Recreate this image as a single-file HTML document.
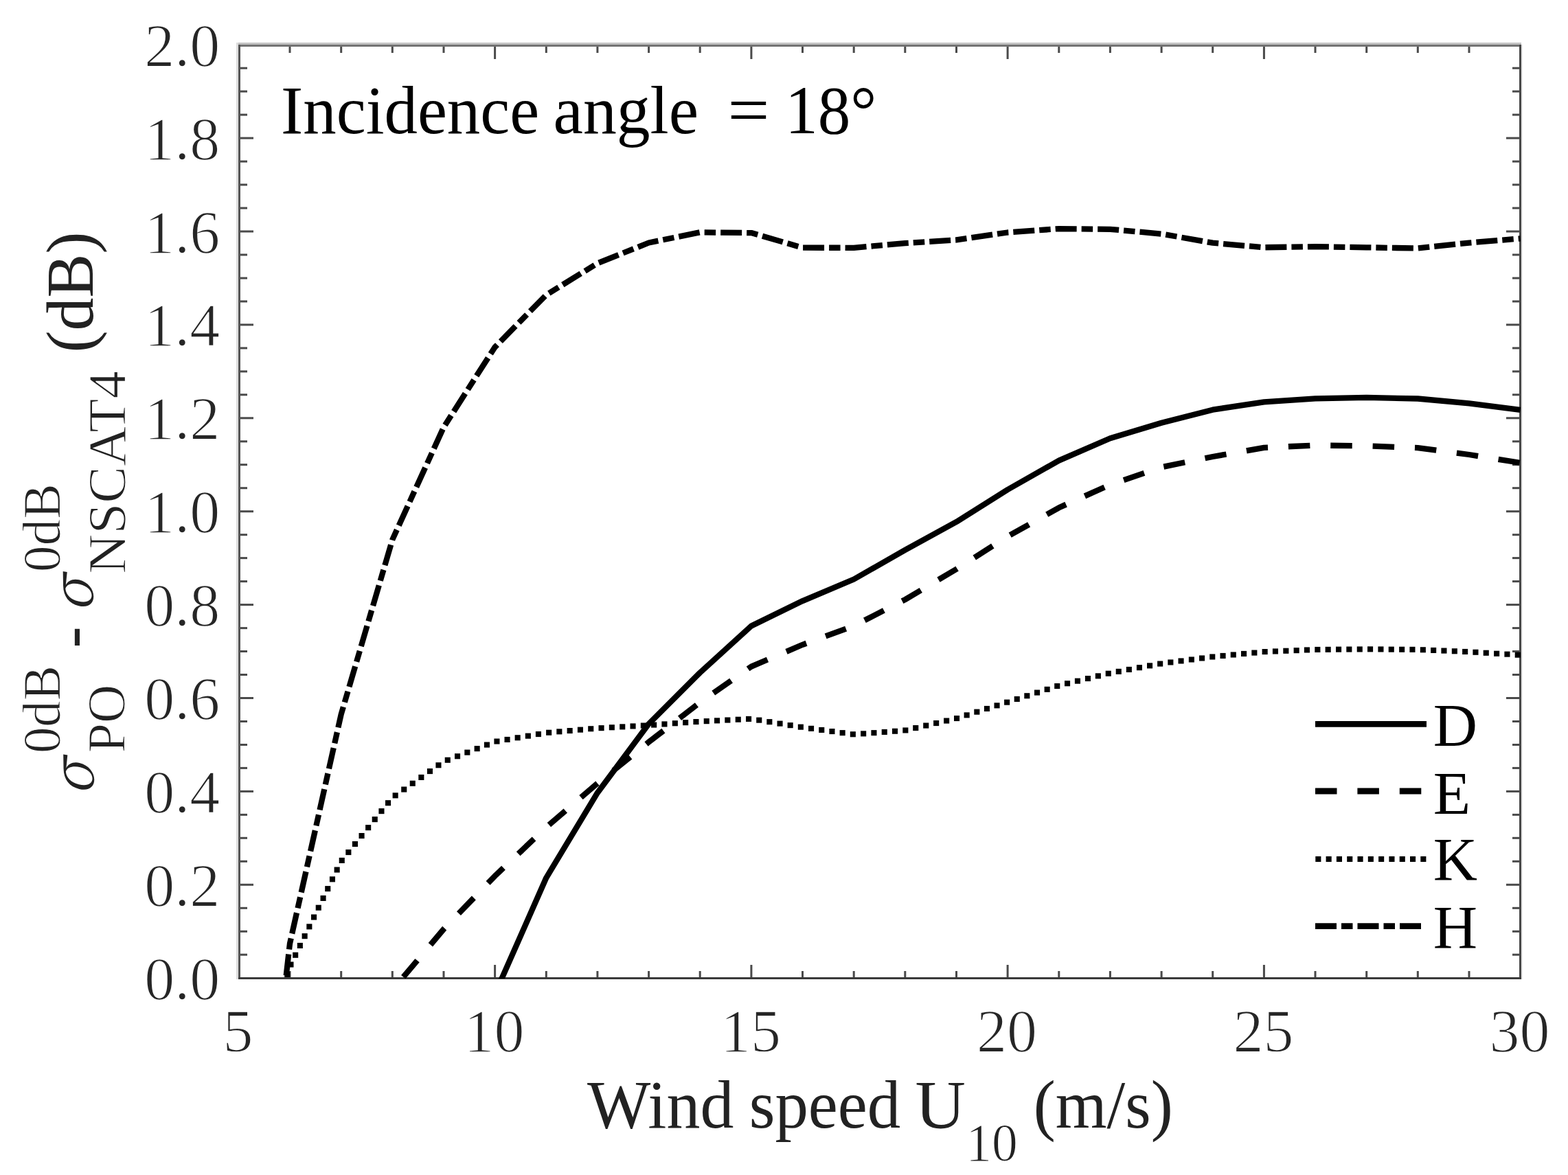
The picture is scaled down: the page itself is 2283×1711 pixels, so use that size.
<!DOCTYPE html><html><head><meta charset="utf-8"><style>html,body{margin:0;padding:0;background:#fff;overflow:hidden;}svg{display:block;}text{font-family:"Liberation Serif","Times New Roman",serif;}</style></head><body>
<svg width="2283" height="1711" viewBox="0 0 2283 1711" xmlns="http://www.w3.org/2000/svg">
<rect width="2283" height="1711" fill="#fff"/>
<defs><clipPath id="pc"><rect x="348" y="60" width="1866" height="1365"/></clipPath></defs>
<rect x="344" y="62" width="3" height="1364" fill="#ddd"/>
<rect x="347" y="62" width="1868" height="3" fill="#c2c2c2"/>
<rect x="347" y="65" width="1868" height="3" fill="#727272"/>
<rect x="347" y="65" width="3" height="1361" fill="#555"/>
<rect x="2212" y="65" width="3" height="1361" fill="#484848"/>
<rect x="2215" y="65" width="2" height="1361" fill="#e8e8e8"/>
<rect x="347" y="1423" width="1868" height="3" fill="#3a3a3a"/>
<g fill="#4a4a4a"><rect x="350" y="1388.7" width="10" height="3"/><rect x="2202" y="1388.7" width="10" height="3"/><rect x="350" y="1354.8" width="10" height="3"/><rect x="2202" y="1354.8" width="10" height="3"/><rect x="350" y="1320.8" width="10" height="3"/><rect x="2202" y="1320.8" width="10" height="3"/><rect x="350" y="1286.8" width="19" height="3"/><rect x="2193" y="1286.8" width="19" height="3"/><rect x="350" y="1252.8" width="10" height="3"/><rect x="2202" y="1252.8" width="10" height="3"/><rect x="350" y="1218.8" width="10" height="3"/><rect x="2202" y="1218.8" width="10" height="3"/><rect x="350" y="1184.9" width="10" height="3"/><rect x="2202" y="1184.9" width="10" height="3"/><rect x="350" y="1150.9" width="19" height="3"/><rect x="2193" y="1150.9" width="19" height="3"/><rect x="350" y="1116.9" width="10" height="3"/><rect x="2202" y="1116.9" width="10" height="3"/><rect x="350" y="1083.0" width="10" height="3"/><rect x="2202" y="1083.0" width="10" height="3"/><rect x="350" y="1049.0" width="10" height="3"/><rect x="2202" y="1049.0" width="10" height="3"/><rect x="350" y="1015.0" width="19" height="3"/><rect x="2193" y="1015.0" width="19" height="3"/><rect x="350" y="981.0" width="10" height="3"/><rect x="2202" y="981.0" width="10" height="3"/><rect x="350" y="947.0" width="10" height="3"/><rect x="2202" y="947.0" width="10" height="3"/><rect x="350" y="913.1" width="10" height="3"/><rect x="2202" y="913.1" width="10" height="3"/><rect x="350" y="879.1" width="19" height="3"/><rect x="2193" y="879.1" width="19" height="3"/><rect x="350" y="845.1" width="10" height="3"/><rect x="2202" y="845.1" width="10" height="3"/><rect x="350" y="811.1" width="10" height="3"/><rect x="2202" y="811.1" width="10" height="3"/><rect x="350" y="777.2" width="10" height="3"/><rect x="2202" y="777.2" width="10" height="3"/><rect x="350" y="743.2" width="19" height="3"/><rect x="2193" y="743.2" width="19" height="3"/><rect x="350" y="709.2" width="10" height="3"/><rect x="2202" y="709.2" width="10" height="3"/><rect x="350" y="675.2" width="10" height="3"/><rect x="2202" y="675.2" width="10" height="3"/><rect x="350" y="641.3" width="10" height="3"/><rect x="2202" y="641.3" width="10" height="3"/><rect x="350" y="607.3" width="19" height="3"/><rect x="2193" y="607.3" width="19" height="3"/><rect x="350" y="573.3" width="10" height="3"/><rect x="2202" y="573.3" width="10" height="3"/><rect x="350" y="539.4" width="10" height="3"/><rect x="2202" y="539.4" width="10" height="3"/><rect x="350" y="505.4" width="10" height="3"/><rect x="2202" y="505.4" width="10" height="3"/><rect x="350" y="471.4" width="19" height="3"/><rect x="2193" y="471.4" width="19" height="3"/><rect x="350" y="437.4" width="10" height="3"/><rect x="2202" y="437.4" width="10" height="3"/><rect x="350" y="403.5" width="10" height="3"/><rect x="2202" y="403.5" width="10" height="3"/><rect x="350" y="369.5" width="10" height="3"/><rect x="2202" y="369.5" width="10" height="3"/><rect x="350" y="335.5" width="19" height="3"/><rect x="2193" y="335.5" width="19" height="3"/><rect x="350" y="301.5" width="10" height="3"/><rect x="2202" y="301.5" width="10" height="3"/><rect x="350" y="267.5" width="10" height="3"/><rect x="2202" y="267.5" width="10" height="3"/><rect x="350" y="233.6" width="10" height="3"/><rect x="2202" y="233.6" width="10" height="3"/><rect x="350" y="199.6" width="19" height="3"/><rect x="2193" y="199.6" width="19" height="3"/><rect x="350" y="165.6" width="10" height="3"/><rect x="2202" y="165.6" width="10" height="3"/><rect x="350" y="131.6" width="10" height="3"/><rect x="2202" y="131.6" width="10" height="3"/><rect x="350" y="97.7" width="10" height="3"/><rect x="2202" y="97.7" width="10" height="3"/><rect x="420.5" y="1414" width="3" height="9"/><rect x="420.5" y="68" width="3" height="9"/><rect x="495.2" y="1414" width="3" height="9"/><rect x="495.2" y="68" width="3" height="9"/><rect x="569.8" y="1414" width="3" height="9"/><rect x="569.8" y="68" width="3" height="9"/><rect x="644.5" y="1414" width="3" height="9"/><rect x="644.5" y="68" width="3" height="9"/><rect x="719.1" y="1405" width="3" height="18"/><rect x="719.1" y="68" width="3" height="18"/><rect x="793.8" y="1414" width="3" height="9"/><rect x="793.8" y="68" width="3" height="9"/><rect x="868.4" y="1414" width="3" height="9"/><rect x="868.4" y="68" width="3" height="9"/><rect x="943.1" y="1414" width="3" height="9"/><rect x="943.1" y="68" width="3" height="9"/><rect x="1017.7" y="1414" width="3" height="9"/><rect x="1017.7" y="68" width="3" height="9"/><rect x="1092.4" y="1405" width="3" height="18"/><rect x="1092.4" y="68" width="3" height="18"/><rect x="1167.0" y="1414" width="3" height="9"/><rect x="1167.0" y="68" width="3" height="9"/><rect x="1241.7" y="1414" width="3" height="9"/><rect x="1241.7" y="68" width="3" height="9"/><rect x="1316.3" y="1414" width="3" height="9"/><rect x="1316.3" y="68" width="3" height="9"/><rect x="1391.0" y="1414" width="3" height="9"/><rect x="1391.0" y="68" width="3" height="9"/><rect x="1465.6" y="1405" width="3" height="18"/><rect x="1465.6" y="68" width="3" height="18"/><rect x="1540.3" y="1414" width="3" height="9"/><rect x="1540.3" y="68" width="3" height="9"/><rect x="1614.9" y="1414" width="3" height="9"/><rect x="1614.9" y="68" width="3" height="9"/><rect x="1689.6" y="1414" width="3" height="9"/><rect x="1689.6" y="68" width="3" height="9"/><rect x="1764.2" y="1414" width="3" height="9"/><rect x="1764.2" y="68" width="3" height="9"/><rect x="1838.9" y="1405" width="3" height="18"/><rect x="1838.9" y="68" width="3" height="18"/><rect x="1913.5" y="1414" width="3" height="9"/><rect x="1913.5" y="68" width="3" height="9"/><rect x="1988.2" y="1414" width="3" height="9"/><rect x="1988.2" y="68" width="3" height="9"/><rect x="2062.8" y="1414" width="3" height="9"/><rect x="2062.8" y="68" width="3" height="9"/><rect x="2137.5" y="1414" width="3" height="9"/><rect x="2137.5" y="68" width="3" height="9"/></g>
<g clip-path="url(#pc)" fill="none" stroke="#000" stroke-width="8.3" stroke-linejoin="round">
<path d="M720.6 1447.5 L795.3 1278.3 L869.9 1154.4 L944.6 1054.1 L1019.2 979.5 L1093.9 911.5 L1168.5 875.1 L1243.2 843.5 L1317.8 800.9 L1392.5 759.9 L1467.1 713.0 L1541.8 670.6 L1616.4 638.2 L1691.1 615.8 L1765.7 596.7 L1840.4 585.3 L1915.0 580.4 L1989.7 578.9 L2064.3 580.5 L2139.0 587.4 L2213.6 597.0"/>
<path d="M571.3 1441.5 L646.0 1353.0 L720.6 1275.6 L795.3 1204.7 L869.9 1140.7 L944.6 1080.6 L1019.2 1022.8 L1093.9 970.6 L1168.5 938.8 L1243.2 911.3 L1317.8 873.1 L1392.5 828.7 L1467.1 781.2 L1541.8 739.3 L1616.4 705.8 L1691.1 680.3 L1765.7 665.0 L1840.4 651.8 L1915.0 648.5 L1989.7 649.4 L2064.3 652.1 L2139.0 662.0 L2213.6 673.9" stroke-dasharray="31.5 29.9" stroke-dashoffset="36.7"/>
</g><g clip-path="url(#pc)" fill="#000"><rect x="414.2" y="1414.9" width="8.1" height="8.1"/><rect x="419.4" y="1400.5" width="8.1" height="8.1"/><rect x="426.1" y="1386.7" width="8.1" height="8.1"/><rect x="432.8" y="1372.9" width="8.1" height="8.1"/><rect x="439.6" y="1359.1" width="8.1" height="8.1"/><rect x="446.3" y="1345.3" width="8.1" height="8.1"/><rect x="453.0" y="1331.5" width="8.1" height="8.1"/><rect x="459.7" y="1317.7" width="8.1" height="8.1"/><rect x="466.5" y="1303.9" width="8.1" height="8.1"/><rect x="473.2" y="1290.1" width="8.1" height="8.1"/><rect x="479.9" y="1276.3" width="8.1" height="8.1"/><rect x="486.6" y="1262.5" width="8.1" height="8.1"/><rect x="493.7" y="1248.9" width="8.1" height="8.1"/><rect x="503.3" y="1237.0" width="8.1" height="8.1"/><rect x="512.9" y="1225.0" width="8.1" height="8.1"/><rect x="522.5" y="1213.0" width="8.1" height="8.1"/><rect x="532.1" y="1201.1" width="8.1" height="8.1"/><rect x="541.7" y="1189.1" width="8.1" height="8.1"/><rect x="551.4" y="1177.1" width="8.1" height="8.1"/><rect x="561.0" y="1165.2" width="8.1" height="8.1"/><rect x="571.6" y="1154.3" width="8.1" height="8.1"/><rect x="584.2" y="1145.5" width="8.1" height="8.1"/><rect x="596.7" y="1136.7" width="8.1" height="8.1"/><rect x="609.3" y="1127.9" width="8.1" height="8.1"/><rect x="621.9" y="1119.0" width="8.1" height="8.1"/><rect x="634.4" y="1110.2" width="8.1" height="8.1"/><rect x="647.7" y="1102.7" width="8.1" height="8.1"/><rect x="662.0" y="1097.2" width="8.1" height="8.1"/><rect x="676.3" y="1091.6" width="8.1" height="8.1"/><rect x="690.6" y="1086.1" width="8.1" height="8.1"/><rect x="704.9" y="1080.5" width="8.1" height="8.1"/><rect x="719.4" y="1075.5" width="8.1" height="8.1"/><rect x="734.5" y="1072.9" width="8.1" height="8.1"/><rect x="749.6" y="1070.2" width="8.1" height="8.1"/><rect x="764.8" y="1067.6" width="8.1" height="8.1"/><rect x="779.9" y="1065.0" width="8.1" height="8.1"/><rect x="795.1" y="1062.7" width="8.1" height="8.1"/><rect x="810.3" y="1061.3" width="8.1" height="8.1"/><rect x="825.6" y="1060.0" width="8.1" height="8.1"/><rect x="840.9" y="1058.6" width="8.1" height="8.1"/><rect x="856.2" y="1057.2" width="8.1" height="8.1"/><rect x="871.5" y="1056.1" width="8.1" height="8.1"/><rect x="886.8" y="1055.2" width="8.1" height="8.1"/><rect x="902.2" y="1054.3" width="8.1" height="8.1"/><rect x="917.5" y="1053.4" width="8.1" height="8.1"/><rect x="932.8" y="1052.5" width="8.1" height="8.1"/><rect x="948.1" y="1051.5" width="8.1" height="8.1"/><rect x="963.4" y="1050.4" width="8.1" height="8.1"/><rect x="978.8" y="1049.2" width="8.1" height="8.1"/><rect x="994.1" y="1048.1" width="8.1" height="8.1"/><rect x="1009.4" y="1047.0" width="8.1" height="8.1"/><rect x="1024.7" y="1046.1" width="8.1" height="8.1"/><rect x="1040.0" y="1045.3" width="8.1" height="8.1"/><rect x="1055.3" y="1044.5" width="8.1" height="8.1"/><rect x="1070.7" y="1043.7" width="8.1" height="8.1"/><rect x="1086.0" y="1042.9" width="8.1" height="8.1"/><rect x="1101.2" y="1044.6" width="8.1" height="8.1"/><rect x="1116.3" y="1047.1" width="8.1" height="8.1"/><rect x="1131.5" y="1049.6" width="8.1" height="8.1"/><rect x="1146.6" y="1052.1" width="8.1" height="8.1"/><rect x="1161.8" y="1054.6" width="8.1" height="8.1"/><rect x="1177.0" y="1056.8" width="8.1" height="8.1"/><rect x="1192.2" y="1058.9" width="8.1" height="8.1"/><rect x="1207.4" y="1061.0" width="8.1" height="8.1"/><rect x="1222.6" y="1063.1" width="8.1" height="8.1"/><rect x="1237.8" y="1065.2" width="8.1" height="8.1"/><rect x="1253.1" y="1064.3" width="8.1" height="8.1"/><rect x="1268.4" y="1063.1" width="8.1" height="8.1"/><rect x="1283.7" y="1061.9" width="8.1" height="8.1"/><rect x="1299.0" y="1060.7" width="8.1" height="8.1"/><rect x="1314.3" y="1059.4" width="8.1" height="8.1"/><rect x="1329.2" y="1056.0" width="8.1" height="8.1"/><rect x="1344.2" y="1052.5" width="8.1" height="8.1"/><rect x="1359.1" y="1049.0" width="8.1" height="8.1"/><rect x="1374.1" y="1045.5" width="8.1" height="8.1"/><rect x="1389.0" y="1042.0" width="8.1" height="8.1"/><rect x="1403.6" y="1037.3" width="8.1" height="8.1"/><rect x="1418.3" y="1032.6" width="8.1" height="8.1"/><rect x="1432.9" y="1027.9" width="8.1" height="8.1"/><rect x="1447.5" y="1023.3" width="8.1" height="8.1"/><rect x="1462.1" y="1018.6" width="8.1" height="8.1"/><rect x="1476.7" y="1013.9" width="8.1" height="8.1"/><rect x="1491.3" y="1009.2" width="8.1" height="8.1"/><rect x="1506.0" y="1004.5" width="8.1" height="8.1"/><rect x="1520.6" y="999.8" width="8.1" height="8.1"/><rect x="1535.2" y="995.0" width="8.1" height="8.1"/><rect x="1550.0" y="991.2" width="8.1" height="8.1"/><rect x="1564.9" y="987.6" width="8.1" height="8.1"/><rect x="1579.9" y="984.0" width="8.1" height="8.1"/><rect x="1594.8" y="980.3" width="8.1" height="8.1"/><rect x="1609.7" y="976.7" width="8.1" height="8.1"/><rect x="1624.7" y="973.8" width="8.1" height="8.1"/><rect x="1639.8" y="970.9" width="8.1" height="8.1"/><rect x="1654.9" y="968.1" width="8.1" height="8.1"/><rect x="1670.0" y="965.3" width="8.1" height="8.1"/><rect x="1685.1" y="962.5" width="8.1" height="8.1"/><rect x="1700.3" y="960.4" width="8.1" height="8.1"/><rect x="1715.5" y="958.4" width="8.1" height="8.1"/><rect x="1730.8" y="956.4" width="8.1" height="8.1"/><rect x="1746.0" y="954.4" width="8.1" height="8.1"/><rect x="1761.2" y="952.4" width="8.1" height="8.1"/><rect x="1776.5" y="950.9" width="8.1" height="8.1"/><rect x="1791.7" y="949.4" width="8.1" height="8.1"/><rect x="1807.0" y="947.9" width="8.1" height="8.1"/><rect x="1822.3" y="946.5" width="8.1" height="8.1"/><rect x="1837.6" y="945.0" width="8.1" height="8.1"/><rect x="1852.9" y="944.4" width="8.1" height="8.1"/><rect x="1868.3" y="943.7" width="8.1" height="8.1"/><rect x="1883.6" y="943.1" width="8.1" height="8.1"/><rect x="1898.9" y="942.4" width="8.1" height="8.1"/><rect x="1914.3" y="941.9" width="8.1" height="8.1"/><rect x="1929.6" y="941.8" width="8.1" height="8.1"/><rect x="1945.0" y="941.6" width="8.1" height="8.1"/><rect x="1960.3" y="941.5" width="8.1" height="8.1"/><rect x="1975.7" y="941.4" width="8.1" height="8.1"/><rect x="1991.0" y="941.3" width="8.1" height="8.1"/><rect x="2006.4" y="941.4" width="8.1" height="8.1"/><rect x="2021.7" y="941.6" width="8.1" height="8.1"/><rect x="2037.1" y="941.7" width="8.1" height="8.1"/><rect x="2052.4" y="941.8" width="8.1" height="8.1"/><rect x="2067.8" y="942.2" width="8.1" height="8.1"/><rect x="2083.1" y="942.9" width="8.1" height="8.1"/><rect x="2098.4" y="943.5" width="8.1" height="8.1"/><rect x="2113.8" y="944.2" width="8.1" height="8.1"/><rect x="2129.1" y="944.9" width="8.1" height="8.1"/><rect x="2144.4" y="945.7" width="8.1" height="8.1"/><rect x="2159.7" y="946.7" width="8.1" height="8.1"/><rect x="2175.1" y="947.7" width="8.1" height="8.1"/><rect x="2190.4" y="948.6" width="8.1" height="8.1"/><rect x="2205.7" y="949.6" width="8.1" height="8.1"/></g><g clip-path="url(#pc)" fill="none" stroke="#000" stroke-width="8.3" stroke-linejoin="round">
<path d="M411.2 1464.0 L416.3 1424.0 L422.0 1374.0 L496.7 1040.1 L571.3 785.9 L646.0 622.1 L720.6 505.5 L795.3 429.4 L869.9 383.4 L944.6 353.5 L1019.2 338.3 L1093.9 339.1 L1168.5 360.7 L1243.2 360.8 L1317.8 354.1 L1392.5 349.4 L1467.1 338.5 L1541.8 333.1 L1616.4 333.8 L1691.1 340.6 L1765.7 353.7 L1840.4 360.3 L1915.0 359.1 L1989.7 360.3 L2064.3 361.5 L2139.0 353.6 L2213.6 347.3" stroke-dasharray="31 7 16.5 7" stroke-dashoffset="17.5"/>
</g>
<g font-size="88" fill="#262626" stroke="#fff" stroke-width="1.5"><text x="320.3" y="1454.7" text-anchor="end">0.0</text><text x="320.3" y="1318.8" text-anchor="end">0.2</text><text x="320.3" y="1182.9" text-anchor="end">0.4</text><text x="320.3" y="1047.0" text-anchor="end">0.6</text><text x="320.3" y="911.1" text-anchor="end">0.8</text><text x="320.3" y="775.2" text-anchor="end">1.0</text><text x="320.3" y="639.3" text-anchor="end">1.2</text><text x="320.3" y="503.4" text-anchor="end">1.4</text><text x="320.3" y="367.5" text-anchor="end">1.6</text><text x="320.3" y="231.6" text-anchor="end">1.8</text><text x="320.3" y="95.7" text-anchor="end">2.0</text><text x="346.4" y="1531.0" text-anchor="middle">5</text><text x="719.6" y="1531.0" text-anchor="middle">10</text><text x="1092.9" y="1531.0" text-anchor="middle">15</text><text x="1466.1" y="1531.0" text-anchor="middle">20</text><text x="1839.4" y="1531.0" text-anchor="middle">25</text><text x="2212.6" y="1531.0" text-anchor="middle">30</text></g>
<g fill="#000"><text transform="matrix(0.9677,0,0,1,409.1,193.7)" font-size="100">Incidence</text><text transform="matrix(0.9766,0,0,1,805.6,193.7)" font-size="100">angle</text><text transform="matrix(1.0809,0,0,1,1059.5,193.7)" font-size="100">=</text><text transform="matrix(0.9508,0,0,1,1143.3,193.7)" font-size="100">18°</text></g>
<g fill="#222"><text transform="matrix(0.9783,0,0,1,854.9,1641.5)" font-size="100">Wind</text><text transform="matrix(0.9686,0,0,1,1090.7,1641.5)" font-size="100">speed</text><text transform="matrix(1.0162,0,0,1,1332.4,1641.5)" font-size="100">U</text><text transform="matrix(0.9696,0,0,1,1406.2,1689.5)" font-size="78" stroke="#fff" stroke-width="1.2">10</text><text transform="matrix(0.9621,0,0,1,1504.7,1641.7)" font-size="100">(m/s)</text></g>
<g transform="rotate(-90)" fill="#222"><text transform="matrix(0.9550,0,0,1,-1157.5,135.6)" font-size="83.8" font-style="italic" style="font-family:'Noto Serif CJK SC','Liberation Serif',serif">σ</text><text transform="matrix(0.9788,0,0,1,-1097.1,86.8)" font-size="78.5" stroke="#fff" stroke-width="1.2">0dB</text><text transform="matrix(0.9917,0,0,1,-1096.3,181.2)" font-size="78.5" stroke="#fff" stroke-width="1.2">PO</text><text transform="matrix(0.9838,0,0,1,-943.6,135.0)" font-size="95">-</text><text transform="matrix(0.9621,0,0,1,-890.7,135.2)" font-size="82.8" font-style="italic" style="font-family:'Noto Serif CJK SC','Liberation Serif',serif">σ</text><text transform="matrix(0.9852,0,0,1,-833.1,87.4)" font-size="78.5" stroke="#fff" stroke-width="1.2">0dB</text><text transform="matrix(1.0269,0,0,1,-835.7,181.5)" font-size="78.5" stroke="#fff" stroke-width="1.2">NSCAT4</text><text transform="matrix(0.9897,0,0,1,-513.5,134.8)" font-size="97">(dB)</text></g>
<g fill="none" stroke="#000" stroke-width="8.8"><line x1="1915" y1="1054.3" x2="2077" y2="1054.3"/><line x1="1915" y1="1152" x2="2070" y2="1152" stroke-dasharray="31.5 29.9"/></g><g fill="#000"><rect x="1915.3" y="1246.95" width="8.1" height="8.1"/><rect x="1930.6" y="1246.95" width="8.1" height="8.1"/><rect x="1945.9" y="1246.95" width="8.1" height="8.1"/><rect x="1961.2" y="1246.95" width="8.1" height="8.1"/><rect x="1976.5" y="1246.95" width="8.1" height="8.1"/><rect x="1991.8" y="1246.95" width="8.1" height="8.1"/><rect x="2007.1" y="1246.95" width="8.1" height="8.1"/><rect x="2022.4" y="1246.95" width="8.1" height="8.1"/><rect x="2037.7" y="1246.95" width="8.1" height="8.1"/><rect x="2053.0" y="1246.95" width="8.1" height="8.1"/><rect x="2068.3" y="1246.95" width="8.1" height="8.1"/></g><g fill="none" stroke="#000" stroke-width="8.8"><line x1="1915" y1="1348.7" x2="2070" y2="1348.7" stroke-dasharray="31 7 16.5 7"/></g><g font-size="89" fill="#000"><text x="2086.8" y="1085.6">D</text><text x="2086.8" y="1184.7">E</text><text x="2086.8" y="1281.0">K</text><text x="2086.8" y="1380.1">H</text></g>
</svg></body></html>
